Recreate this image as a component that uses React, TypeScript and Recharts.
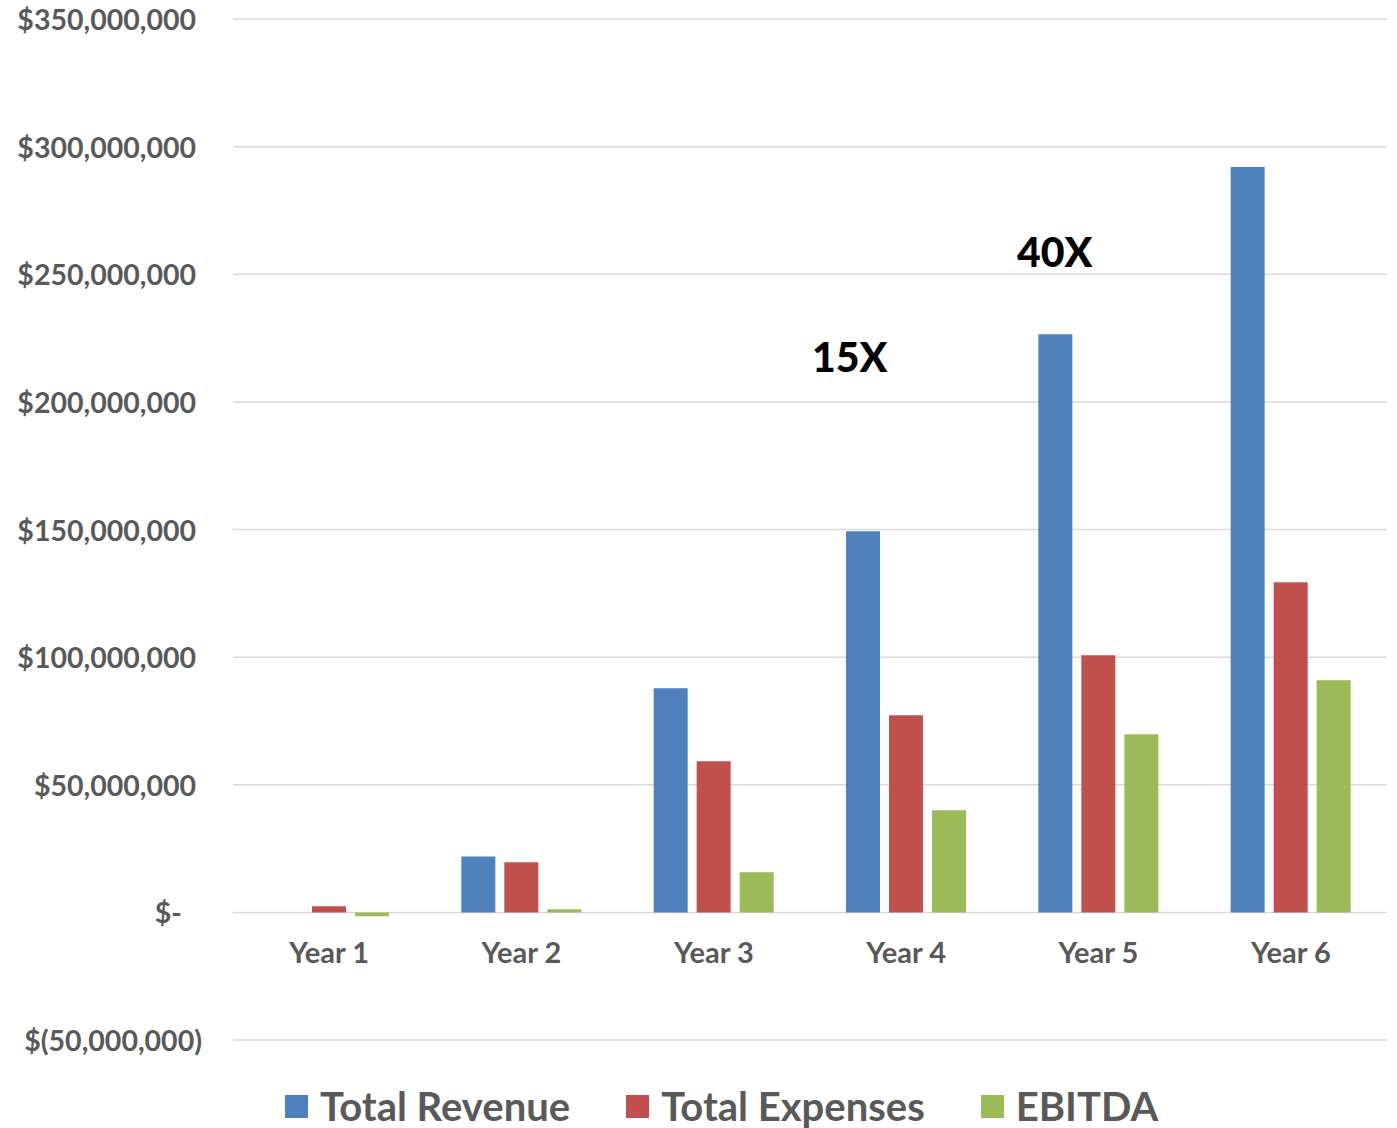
import React from 'react';
import { BarChart, Bar, XAxis, YAxis, CartesianGrid } from 'recharts';

const years = ['Year 1', 'Year 2', 'Year 3', 'Year 4', 'Year 5', 'Year 6'];
const totalRevenue = [0, 21900000, 87800000, 149300000, 226500000, 292000000];
const totalExpenses = [2400000, 19600000, 59200000, 77200000, 100700000, 129300000];
const ebitda = [-1500000, 1200000, 15700000, 40000000, 69800000, 90900000];
const yTicks = [-50000000, 0, 50000000, 100000000, 150000000, 200000000, 250000000, 300000000, 350000000];

const SERIES = [
  { key: 'revenue', name: 'Total Revenue', color: '#4F81BD' },
  { key: 'expenses', name: 'Total Expenses', color: '#C0504D' },
  { key: 'ebitda', name: 'EBITDA', color: '#9BBB59' },
];

const data = years.map((year, i) => ({
  year,
  revenue: totalRevenue[i],
  expenses: totalExpenses[i],
  ebitda: ebitda[i],
}));

const FONT = 'Lato, "Open Sans", sans-serif';
const TEXT = '#595959';

// accounting style: $350,000,000 / $- / $(50,000,000)
const fmt = (v: number) => {
  if (v === 0) return '$-';
  const s = Math.abs(v).toLocaleString('en-US');
  return v < 0 ? `$(${s})` : `$${s}`;
};

const YTick = (props: any) => {
  const { x, y, payload } = props;
  const v = payload.value;
  const shift = v < 0 ? 6 : v === 0 ? -14 : 0;
  return (
    <text x={x + shift} y={y} textAnchor="end" dominantBaseline="central"
      fontFamily={FONT} fontWeight={700} fontSize={28.5} fill={TEXT}>
      {fmt(v)}
    </text>
  );
};

const XTick = (props: any) => {
  const { x, y, payload } = props;
  // category labels sit just under the zero line, as in Excel
  return (
    <text x={x} y={y - 89} textAnchor="middle" dominantBaseline="central"
      fontFamily={FONT} fontWeight={700} fontSize={29} fill={TEXT}>
      {payload.value}
    </text>
  );
};

export default function App() {
  return (
    <div style={{ position: 'relative', width: 1397, height: 1128, background: '#fff' }}>
      <style>{'body{margin:0;overflow:hidden}'}</style>
      <BarChart width={1397} height={1128} data={data} style={{ overflow: 'visible' }}
        margin={{ top: 19, right: 10, bottom: 48, left: 0 }}
        barSize={34} barGap={9}>
        <CartesianGrid vertical={false} stroke="#D9D9D9" strokeWidth={1.5} />
        <XAxis dataKey="year" height={40} axisLine={false} tickLine={false} tickSize={0}
          tickMargin={0} tick={<XTick />} interval={0} />
        <YAxis width={233} domain={[-50000000, 350000000]} ticks={yTicks} axisLine={false}
          tickLine={false} tickSize={0} tickMargin={37} tick={<YTick />} interval={0} />
        {SERIES.map((s) => (
          <Bar key={s.key} dataKey={s.key} name={s.name} fill={s.color} isAnimationActive={false} />
        ))}
      </BarChart>

      <div style={{ position: 'absolute', left: 812, top: 336, fontFamily: FONT, fontWeight: 900, fontSize: 41, color: '#000', lineHeight: 1 }}>
        15X
      </div>
      <div style={{ position: 'absolute', left: 1017, top: 231, fontFamily: FONT, fontWeight: 900, fontSize: 41, color: '#000', lineHeight: 1 }}>
        40X
      </div>

      <div style={{ position: 'absolute', left: 285, top: 1086, display: 'flex', alignItems: 'center', fontFamily: FONT, fontWeight: 700, fontSize: 40, color: TEXT, lineHeight: 1 }}>
        {SERIES.map((s, i) => (
          <div key={s.key} style={{ display: 'flex', alignItems: 'center', marginRight: i < SERIES.length - 1 ? 56 : 0 }}>
            <span style={{ width: 23, height: 23, background: s.color, marginRight: 12, display: 'inline-block' }} />
            <span>{s.name}</span>
          </div>
        ))}
      </div>
    </div>
  );
}
